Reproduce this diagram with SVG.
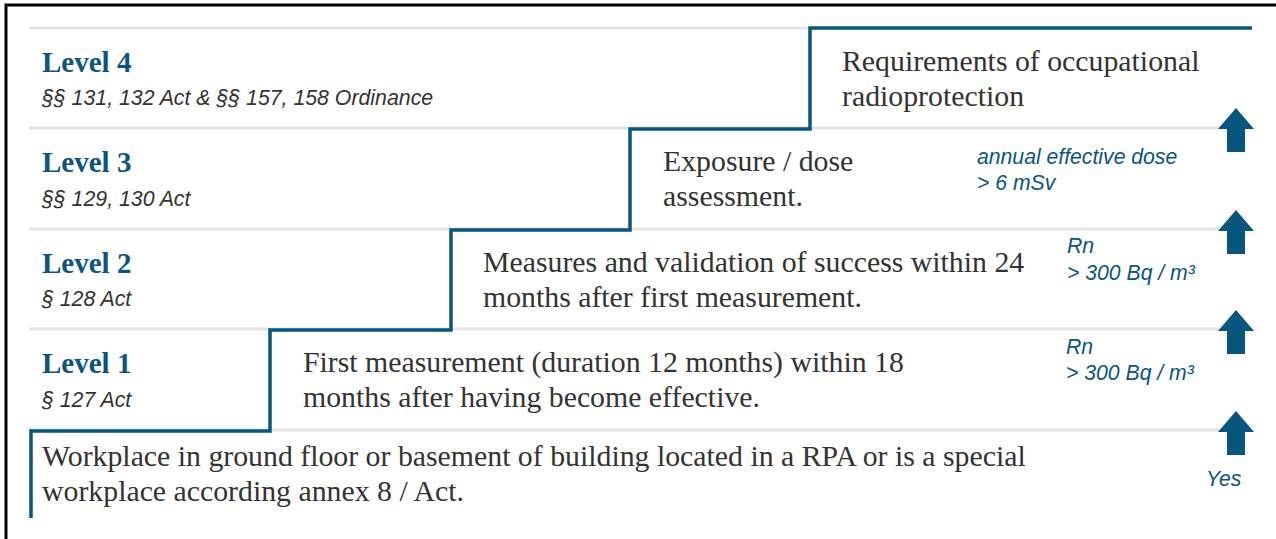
<svg xmlns="http://www.w3.org/2000/svg" width="1276" height="539" viewBox="0 0 1276 539">
<style>
.grid{stroke:#e3e3e3;stroke-width:3;fill:none}
.stair{stroke:#08557e;stroke-width:3.5;fill:none}
.lvl{font-family:"Liberation Serif",serif;font-weight:bold;font-size:29px;fill:#0b5580}
.ref{font-family:"Liberation Sans",sans-serif;font-style:italic;font-size:21.3px;fill:#333}
.main{font-family:"Liberation Serif",serif;font-size:29.8px;fill:#333}
.cond{font-family:"Liberation Sans",sans-serif;font-style:italic;font-size:21.2px;fill:#0b5580}
.arr{fill:#08557e}
</style>
<defs>
<path id="up" d="M0,0 L18,21 L9,21 L9,44 L-9,44 L-9,21 L-18,21 Z"/>
</defs>
<rect width="1276" height="539" fill="#fff"/>
<path d="M6,539 V5 H1276" stroke="#000" stroke-width="3" fill="none"/>
<g id="gridlines">
<line class="grid" x1="29" y1="28" x2="810" y2="28"/>
<line class="grid" x1="29" y1="128" x2="1250" y2="128"/>
<line class="grid" x1="29" y1="229" x2="1250" y2="229"/>
<line class="grid" x1="29" y1="329" x2="1250" y2="329"/>
<line class="grid" x1="29" y1="430" x2="1250" y2="430"/>
</g>
<g id="connectors">
<path class="stair" d="M31,518 V431 H270 V330 H451 V230 H630 V129 H810 V28 H1252"/>
<use class="arr" href="#up" x="1236" y="108"/>
<use class="arr" href="#up" x="1236" y="210"/>
<use class="arr" href="#up" x="1236" y="310"/>
<use class="arr" href="#up" x="1236" y="411"/>
</g>
<g id="level4">
<text class="lvl" x="42" y="72">Level 4</text>
<text class="ref" x="42" y="105">§§ 131, 132 Act &amp; §§ 157, 158 Ordinance</text>
<text class="main" x="842" y="71">Requirements of occupational</text>
<text class="main" x="842" y="106">radioprotection</text>
</g>
<g id="level3">
<text class="lvl" x="42" y="172">Level 3</text>
<text class="ref" x="42" y="206">§§ 129, 130 Act</text>
<text class="main" x="663" y="171">Exposure / dose</text>
<text class="main" x="663" y="206">assessment.</text>
<text class="cond" x="977" y="164">annual effective dose</text>
<text class="cond" x="977" y="190">&gt; 6 mSv</text>
</g>
<g id="level2">
<text class="lvl" x="42" y="273">Level 2</text>
<text class="ref" x="42" y="306">§ 128 Act</text>
<text class="main" x="483" y="272">Measures and validation of success within 24</text>
<text class="main" x="483" y="307">months after first measurement.</text>
<text class="cond" x="1067" y="253">Rn</text>
<text class="cond" x="1067" y="280">&gt; 300 Bq / m³</text>
</g>
<g id="level1">
<text class="lvl" x="42" y="373">Level 1</text>
<text class="ref" x="42" y="407">§ 127 Act</text>
<text class="main" x="303" y="372">First measurement (duration 12 months) within 18</text>
<text class="main" x="303" y="407">months after having become effective.</text>
<text class="cond" x="1066" y="354">Rn</text>
<text class="cond" x="1066" y="380">&gt; 300 Bq / m³</text>
</g>
<g id="base">
<text class="main" x="42" y="466">Workplace in ground floor or basement of building located in a RPA or is a special</text>
<text class="main" x="42" y="501">workplace according annex 8 / Act.</text>
<text class="cond" x="1206" y="486">Yes</text>
</g>
</svg>
